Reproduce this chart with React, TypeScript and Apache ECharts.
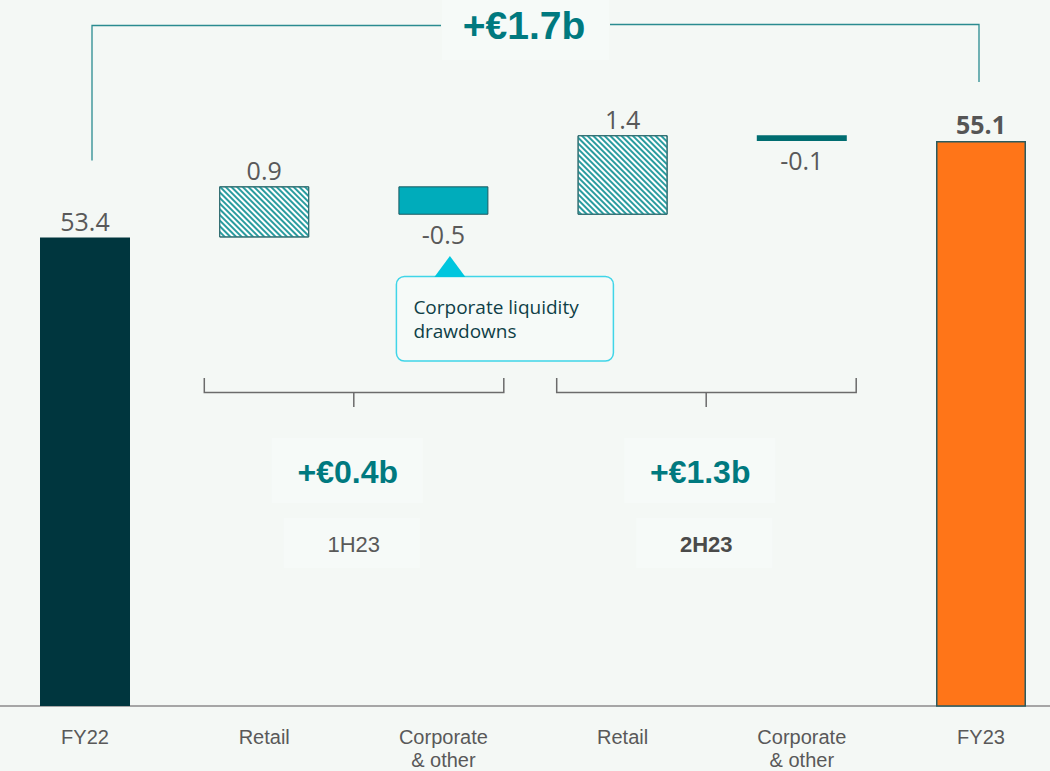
import React, { useEffect, useRef } from "react";
import * as echarts from "echarts";

// ---- data ----
const categoryKeys = ["fy22", "retail1h", "corp1h", "retail2h", "corp2h", "fy23"];
const categoryLabels = ["FY22", "Retail", "Corporate\n& other", "Retail", "Corporate\n& other", "FY23"];
const startValue = 53.4;
const endValue = 55.1;
const stepDeltas = [0.9, -0.5, 1.4, -0.1];
const halfLabels = ["1H23", "2H23"];
const halfRanges = [
  [1, 2],
  [3, 4],
];
const calloutText = "Corporate liquidity\ndrawdowns";

const BG = "#f4f8f5";
const BOX = "#f6faf8";
const TEAL = "#00797f";
const GRAY = "#595959";
const SANS = "'Open Sans', 'Noto Sans', sans-serif";
const ARIAL = "'Liberation Sans', Arial, sans-serif";
const BRACKET_SHIFT = [0, -6];

const r2 = (v: number) => Math.round(v * 100) / 100;
const fmtChange = (v: number) => (v >= 0 ? "+€" : "-€") + Math.abs(v).toFixed(1) + "b";

// chart canvas is shifted left by OFFSET so that it can extend beyond the page edges
const OFFSET = 5;

export default function App() {
  const ref = useRef<HTMLDivElement>(null);

  useEffect(() => {
    if (!ref.current) return;
    const chart = echarts.init(ref.current, undefined, { renderer: "svg" });

    const baseData: any[] = ["-"];
    const upData: any[] = ["-"];
    const downData: any[] = ["-"];
    let run = startValue;
    stepDeltas.forEach((d) => {
      const next = r2(run + d);
      baseData.push(r2(Math.min(run, next)));
      if (d >= 0) {
        upData.push(d);
        downData.push("-");
      } else {
        upData.push("-");
        const isSmall = Math.abs(d) < 0.2;
        downData.push({
          value: -d,
          itemStyle: isSmall
            ? { color: "#006d70", borderColor: "#006d70", borderWidth: 0 }
            : { color: "#00acbb", borderColor: "#1d5a60", borderWidth: 1 },
        });
      }
      run = next;
    });
    baseData.push("-");
    upData.push("-");
    downData.push("-");

    const totalData: any[] = categoryKeys.map(() => "-");
    totalData[0] = { value: startValue, itemStyle: { color: "#00363e" }, label: { fontWeight: "normal" } };
    totalData[categoryKeys.length - 1] = {
      value: endValue,
      itemStyle: { color: "#ff7518", borderColor: "#2b5b5e", borderWidth: 1.5 },
      label: { fontWeight: "bold", color: "#555" },
    };

    const labelBase = { show: true, fontFamily: SANS, fontSize: 25, color: GRAY };

    chart.setOption({
      animation: false,
      backgroundColor: BG,
      grid: { left: 0.4, right: 4.4, top: 33, bottom: 65, containLabel: false },
      xAxis: {
        type: "category",
        data: categoryKeys,
        axisLine: { show: true, lineStyle: { color: "#a6a6a6", width: 2 } },
        axisTick: { show: false },
        axisLabel: {
          formatter: (_v: string, i: number) => categoryLabels[i],
          fontFamily: ARIAL,
          fontSize: 20,
          lineHeight: 22.5,
          color: GRAY,
          margin: 20,
          interval: 0,
        },
      },
      yAxis: { type: "value", min: 45.15, max: 57, show: false, splitLine: { show: false } },
      series: [
        {
          name: "base",
          type: "bar",
          stack: "wf",
          barWidth: 90,
          data: baseData,
          itemStyle: { color: "transparent" },
          silent: true,
        },
        {
          name: "total",
          type: "bar",
          stack: "wf",
          barWidth: 90,
          data: totalData,
          label: { ...labelBase, position: "top", distance: 4 },
        },
        {
          name: "increase",
          type: "bar",
          stack: "wf",
          barWidth: 90,
          data: upData,
          itemStyle: {
            color: "#ffffff",
            borderColor: "#2e6b6e",
            borderWidth: 1,
            decal: {
              symbol: "rect",
              symbolSize: 1,
              color: "#2a9c9f",
              dashArrayX: [1, 0],
              dashArrayY: [2, 2],
              rotation: Math.PI / 4,
            },
          },
          label: {
            ...labelBase,
            position: "top",
            distance: 4,
            formatter: (p: any) => stepDeltas[p.dataIndex - 1].toFixed(1),
          },
        },
        {
          name: "decrease",
          type: "bar",
          stack: "wf",
          barWidth: 90,
          data: downData,
          label: {
            ...labelBase,
            position: "bottom",
            distance: 7,
            formatter: (p: any) => stepDeltas[p.dataIndex - 1].toFixed(1),
          },
        },
      ],
    });

    // pixel helper (in chart coordinates, which are shifted by OFFSET from the page)
    const px = (i: number, v: number) => chart.convertToPixel({ gridIndex: 0 }, [i, v]) as number[];
    const X = (pageX: number) => pageX + OFFSET; // page x -> chart x
    const x0 = px(0, startValue)[0];
    const x5 = px(categoryKeys.length - 1, endValue)[0];
    const yStart = px(0, startValue)[1];
    const yEnd = px(categoryKeys.length - 1, endValue)[1];
    const totalChange = r2(endValue - startValue);

    const graphics: any[] = [];
    // top bracket
    graphics.push({
      type: "polyline",
      shape: { points: [[x0 + 7, yStart - 77], [x0 + 7, 25.5], [X(441), 25.5]] },
      style: { stroke: "#2a8b90", lineWidth: 1.3, fill: null },
    });
    graphics.push({
      type: "polyline",
      shape: { points: [[X(610), 24.5], [x5 - 2, 24.5], [x5 - 2, yEnd - 59]] },
      style: { stroke: "#2a8b90", lineWidth: 1.3, fill: null },
    });
    graphics.push({ type: "rect", shape: { x: X(442), y: 0, width: 167, height: 60 }, style: { fill: BOX } });
    graphics.push({
      type: "text",
      style: {
        text: fmtChange(totalChange),
        x: X(524),
        y: 25,
        align: "center",
        verticalAlign: "middle",
        fill: TEAL,
        fontFamily: ARIAL,
        fontWeight: "bold",
        fontSize: 39,
      },
    });

    // half-year brackets
    halfRanges.forEach(([a, b], h) => {
      const xa = px(a, 50)[0];
      const xb = px(b, 50)[0];
      const cx = (xa + xb) / 2 + BRACKET_SHIFT[h];
      const left = cx - 149.5;
      const right = cx + 150;
      const sum = r2(stepDeltas.slice(a - 1, b).reduce((s, d) => s + d, 0));
      graphics.push({
        type: "polyline",
        shape: { points: [[left, 378], [left, 392.5], [right, 392.5], [right, 378]] },
        style: { stroke: "#6b6b6b", lineWidth: 1.5, fill: null },
      });
      graphics.push({
        type: "line",
        shape: { x1: cx, y1: 392.5, x2: cx, y2: 407 },
        style: { stroke: "#6b6b6b", lineWidth: 1.5 },
      });
      graphics.push({ type: "rect", shape: { x: cx - 82, y: 438, width: 151, height: 65 }, style: { fill: BOX } });
      graphics.push({ type: "rect", shape: { x: cx - 70, y: 518, width: 136, height: 50 }, style: { fill: BOX } });
      graphics.push({
        type: "text",
        style: {
          text: fmtChange(sum),
          x: cx - 6,
          y: 472,
          align: "center",
          verticalAlign: "middle",
          fill: TEAL,
          fontFamily: ARIAL,
          fontWeight: "bold",
          fontSize: 32,
        },
      });
      graphics.push({
        type: "text",
        style: {
          text: halfLabels[h],
          x: cx,
          y: 544,
          align: "center",
          verticalAlign: "middle",
          fill: h === 1 ? "#4a4a4a" : GRAY,
          fontFamily: ARIAL,
          fontWeight: h === 1 ? "bold" : "normal",
          fontSize: 22,
        },
      });
    });

    // callout
    const xc = px(2, 50)[0];
    graphics.push({
      type: "rect",
      shape: { x: xc - 47, y: 276.5, width: 217, height: 84.5, r: 8 },
      style: { fill: BOX, stroke: "#3fd5e8", lineWidth: 1.5 },
    });
    graphics.push({
      type: "polygon",
      shape: { points: [[xc - 9, 277], [xc + 6.5, 256], [xc + 22, 277]] },
      style: { fill: "#00c6de" },
    });
    graphics.push({
      type: "text",
      style: {
        text: calloutText,
        x: xc - 30,
        y: 319,
        align: "left",
        verticalAlign: "middle",
        fill: "#0f3f47",
        fontFamily: SANS,
        fontSize: 19,
        lineHeight: 24,
      },
    });

    chart.setOption({ graphic: graphics });

    return () => chart.dispose();
  }, []);

  return (
    <div
      style={{
        position: "absolute",
        left: 0,
        top: 0,
        width: 1050,
        height: 771,
        overflow: "hidden",
        background: BG,
      }}
    >
      <div
        ref={ref}
        style={{ position: "absolute", left: -OFFSET, top: 0, width: 1080, height: 771 }}
      />
    </div>
  );
}
